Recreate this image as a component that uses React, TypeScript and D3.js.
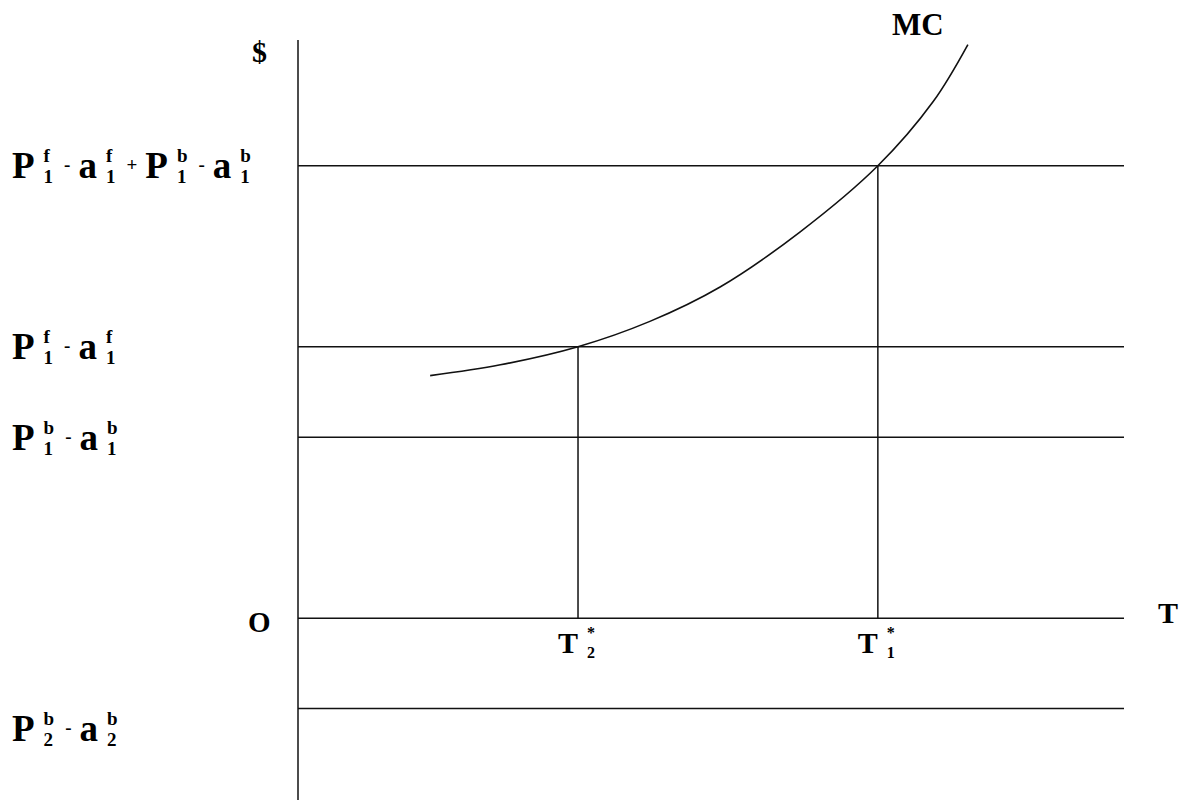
import React, { useEffect, useRef } from "react";
import * as d3 from "d3";

const W = 1186;
const H = 804;

// Price levels ($ axis, data units) and their labels
type Piece = { kind: "big" | "op" | "stack"; text?: string; sup?: string; sub?: string };
const levelValues = [5, 3, 2, 0, -1];
const levelLabels: Piece[][] = [
  [
    { kind: "big", text: "P" }, { kind: "stack", sup: "f", sub: "1" }, { kind: "op", text: "-" },
    { kind: "big", text: "a" }, { kind: "stack", sup: "f", sub: "1" }, { kind: "op", text: "+" },
    { kind: "big", text: "P" }, { kind: "stack", sup: "b", sub: "1" }, { kind: "op", text: "-" },
    { kind: "big", text: "a" }, { kind: "stack", sup: "b", sub: "1" },
  ],
  [
    { kind: "big", text: "P" }, { kind: "stack", sup: "f", sub: "1" }, { kind: "op", text: "-" },
    { kind: "big", text: "a" }, { kind: "stack", sup: "f", sub: "1" },
  ],
  [
    { kind: "big", text: "P" }, { kind: "stack", sup: "b", sub: "1" }, { kind: "op", text: "-" },
    { kind: "big", text: "a" }, { kind: "stack", sup: "b", sub: "1" },
  ],
  [],
  [
    { kind: "big", text: "P" }, { kind: "stack", sup: "b", sub: "2" }, { kind: "op", text: "-" },
    { kind: "big", text: "a" }, { kind: "stack", sup: "b", sub: "2" },
  ],
];
const labelDy = [12, 12, 13, 0, 32];

// Equilibrium quantities on T axis
const tStarValues = [3.39, 7.02];
const tStarSubs = ["2", "1"];
const tStarLevels = [3, 5];

// Marginal cost curve
const mcT = [1.6, 2.45, 3.39, 4.26, 5.11, 6.08, 7.02, 7.69, 8.11];
const mcP = [2.68, 2.8, 3.0, 3.28, 3.66, 4.27, 5.0, 5.71, 6.34];

const FONT = "'Liberation Serif', 'Times New Roman', serif";

export default function App() {
  const ref = useRef<SVGSVGElement>(null);

  useEffect(() => {
    const svg = d3.select(ref.current);
    svg.selectAll("*").remove();

    const x = d3.scaleLinear().domain([0, 10]).range([298, 1124]);
    const y = d3.scaleLinear().domain([-2.01, 6.39]).range([800, 40]);

    const g = svg.append("g").attr("stroke", "#111").attr("fill", "none").attr("stroke-width", 1.5);

    // vertical $ axis
    g.append("line").attr("x1", x(0)).attr("x2", x(0)).attr("y1", y(6.39)).attr("y2", y(-2.01));

    // horizontal price levels
    g.selectAll("line.lvl")
      .data(levelValues)
      .join("line")
      .attr("class", "lvl")
      .attr("x1", x(0))
      .attr("x2", x(10))
      .attr("y1", (d) => y(d))
      .attr("y2", (d) => y(d));

    // vertical drop lines
    g.selectAll("line.drop")
      .data(tStarValues)
      .join("line")
      .attr("class", "drop")
      .attr("x1", (d) => x(d))
      .attr("x2", (d) => x(d))
      .attr("y1", (d, i) => y(tStarLevels[i]))
      .attr("y2", y(0));

    // MC curve
    const pts: [number, number][] = mcT.map((t, i) => [t, mcP[i]]);
    const line = d3
      .line<[number, number]>()
      .x((d) => x(d[0]))
      .y((d) => y(d[1]))
      .curve(d3.curveCatmullRom.alpha(0.5));
    g.append("path").attr("d", line(pts)!).attr("stroke-width", 1.6);

    const txt = svg.append("g").attr("font-family", FONT).attr("font-weight", "bold").attr("fill", "#000");

    // axis labels
    txt.append("text").attr("x", 252).attr("y", y(6.39) + 22).attr("font-size", 30).text("$");
    txt.append("text").attr("x", 892).attr("y", 35).attr("font-size", 31).text("MC");
    txt.append("text").attr("x", 248).attr("y", y(0) + 14).attr("font-size", 29).text("O");
    txt.append("text").attr("x", 1158).attr("y", y(0) + 5).attr("font-size", 30).text("T");

    // T* labels
    tStarValues.forEach((t, i) => {
      const base = y(0) + 35;
      const tx = x(t) - 20;
      txt.append("text").attr("x", tx).attr("y", base).attr("font-size", 30).text("T");
      txt.append("text").attr("x", tx + 29).attr("y", base - 15).attr("font-size", 16).text("*");
      txt.append("text").attr("x", tx + 29).attr("y", base + 5).attr("font-size", 16).text(tStarSubs[i]);
    });

    // level labels with stacked super/subscripts
    levelLabels.forEach((pieces, li) => {
      if (!pieces.length) return;
      const base = y(levelValues[li]) + labelDy[li];
      let cx = 12;
      pieces.forEach((p, pi) => {
        if (p.kind === "big") {
          const t = txt.append("text").attr("x", cx).attr("y", base).attr("font-size", 37).text(p.text!);
          cx += (t.node() as SVGTextElement).getComputedTextLength() + 9;
        } else if (p.kind === "op") {
          const t = txt.append("text").attr("x", cx).attr("y", base - 7).attr("font-size", 19).text(p.text!);
          cx += (t.node() as SVGTextElement).getComputedTextLength() + 8;
        } else {
          const a = txt.append("text").attr("x", cx).attr("y", base - 16).attr("font-size", 19).text(p.sup!);
          const b = txt.append("text").attr("x", cx).attr("y", base + 5).attr("font-size", 19).text(p.sub!);
          const w = Math.max(
            (a.node() as SVGTextElement).getComputedTextLength(),
            (b.node() as SVGTextElement).getComputedTextLength()
          );
          cx += w + (pi === pieces.length - 1 ? 0 : 11);
        }
      });
    });
  }, []);

  return (
    <svg
      ref={ref}
      width={W}
      height={H}
      style={{ position: "absolute", left: 0, top: 0, background: "#fff" }}
    />
  );
}
